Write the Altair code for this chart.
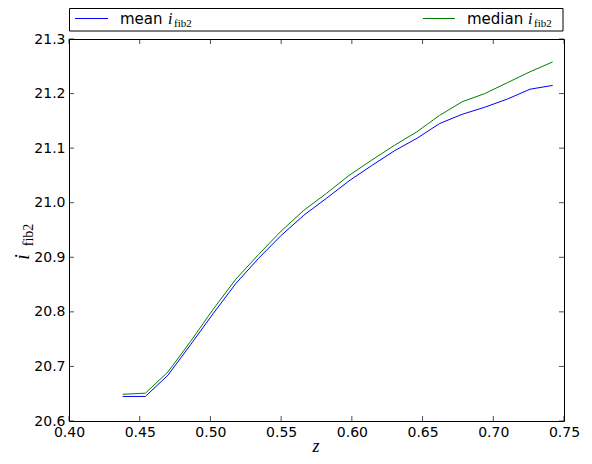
import altair as alt
import pandas as pd

z_vals = [0.438, 0.454, 0.470, 0.486, 0.502, 0.518, 0.534, 0.550, 0.566, 0.582,
          0.598, 0.614, 0.630, 0.646, 0.662, 0.678, 0.694, 0.710, 0.726, 0.742]
mean_vals = [20.645, 20.645, 20.684, 20.740, 20.797, 20.852, 20.898, 20.940, 20.977, 21.008,
             21.040, 21.068, 21.095, 21.118, 21.145, 21.162, 21.175, 21.190, 21.208, 21.215]
median_vals = [20.649, 20.651, 20.690, 20.746, 20.805, 20.860, 20.905, 20.948, 20.986, 21.017,
               21.050, 21.078, 21.105, 21.130, 21.160, 21.185, 21.200, 21.220, 21.240, 21.258]
series_names = ["mean", "median"]
series_colors = ["#0000ff", "#008000"]
x_ticks = [0.40, 0.45, 0.50, 0.55, 0.60, 0.65, 0.70, 0.75]
y_ticks = [20.6, 20.7, 20.8, 20.9, 21.0, 21.1, 21.2, 21.3]

W, H = 495, 382
FONT = "DejaVu Sans"
MATH = "Liberation Serif"

rows = []
for z, m, md in zip(z_vals, mean_vals, median_vals):
    rows.append({"z": z, "val": m, "series": "mean"})
    rows.append({"z": z, "val": md, "series": "median"})
df = pd.DataFrame(rows)

xs = alt.Scale(domain=[0.40, 0.75], nice=False, zero=False)
ys = alt.Scale(domain=[20.6, 21.3], nice=False, zero=False)

lines = alt.Chart(df).mark_line(strokeWidth=1, clip=True).encode(
    x=alt.X("z:Q", scale=xs, axis=alt.Axis(
        values=x_ticks, format=".2f", ticks=False, tickSize=0, labelPadding=4,
        labelFont=FONT, labelFontSize=14, labelColor="black", domain=False,
        grid=False, title=None, labelFlush=False)),
    y=alt.Y("val:Q", scale=ys, axis=alt.Axis(
        values=y_ticks, format=".1f", ticks=False, tickSize=0, labelPadding=4,
        labelFont=FONT, labelFontSize=14, labelColor="black", domain=False,
        grid=False, title=None, labelFlush=False)),
    color=alt.Color("series:N", scale=alt.Scale(domain=series_names, range=series_colors), legend=None),
    detail="series:N",
)

xt = pd.DataFrame({"t": x_ticks})
yt = pd.DataFrame({"t": y_ticks})
TL = 5
BLACK = alt.value("black")
xtick_b = alt.Chart(xt).mark_rule(strokeWidth=0.7).encode(
    x=alt.X("t:Q", scale=xs), y=alt.value(H), y2=alt.value(H - TL), color=BLACK)
xtick_t = alt.Chart(xt).mark_rule(strokeWidth=0.7).encode(
    x=alt.X("t:Q", scale=xs), y=alt.value(0), y2=alt.value(TL), color=BLACK)
ytick_l = alt.Chart(yt).mark_rule(strokeWidth=0.7).encode(
    y=alt.Y("t:Q", scale=ys), x=alt.value(0), x2=alt.value(TL), color=BLACK)
ytick_r = alt.Chart(yt).mark_rule(strokeWidth=0.7).encode(
    y=alt.Y("t:Q", scale=ys), x=alt.value(W), x2=alt.value(W - TL), color=BLACK)

one = pd.DataFrame({"a": [0]})
base = alt.Chart(one)

# legend box
leg_box = base.mark_rect(strokeWidth=1).encode(
    x=alt.value(0.5), x2=alt.value(494), y=alt.value(-30.5), y2=alt.value(-8),
    fill=alt.value("white"), stroke=BLACK)
leg_l1 = base.mark_rule(strokeWidth=1).encode(
    x=alt.value(6), x2=alt.value(39), y=alt.value(-20.5), color=alt.value(series_colors[0]))
leg_l2 = base.mark_rule(strokeWidth=1).encode(
    x=alt.value(354), x2=alt.value(386), y=alt.value(-20.5), color=alt.value(series_colors[1]))
leg_t1 = base.mark_text(font=FONT, fontSize=15, align="left", baseline="alphabetic").encode(
    x=alt.value(51), y=alt.value(-15), text=alt.value("mean"), color=BLACK)
leg_i1 = base.mark_text(font=MATH, fontSize=16, fontStyle="italic", align="left", baseline="alphabetic").encode(
    x=alt.value(99), y=alt.value(-15), text=alt.value("i"), color=BLACK)
leg_s1 = base.mark_text(font=MATH, fontSize=11, align="left", baseline="alphabetic").encode(
    x=alt.value(105), y=alt.value(-12), text=alt.value("fib2"), color=BLACK)
leg_t2 = base.mark_text(font=FONT, fontSize=15, align="left", baseline="alphabetic").encode(
    x=alt.value(398), y=alt.value(-15), text=alt.value("median"), color=BLACK)
leg_i2 = base.mark_text(font=MATH, fontSize=16, fontStyle="italic", align="left", baseline="alphabetic").encode(
    x=alt.value(459), y=alt.value(-15), text=alt.value("i"), color=BLACK)
leg_s2 = base.mark_text(font=MATH, fontSize=11, align="left", baseline="alphabetic").encode(
    x=alt.value(465), y=alt.value(-12), text=alt.value("fib2"), color=BLACK)

# axis titles
xtitle = base.mark_text(font=MATH, fontSize=18, fontStyle="italic", align="center", baseline="alphabetic").encode(
    x=alt.value(247), y=alt.value(413), text=alt.value("z"), color=BLACK)
ytitle_i = base.mark_text(font=MATH, fontSize=20, fontStyle="italic", angle=270, align="center", baseline="alphabetic").encode(
    x=alt.value(-40), y=alt.value(218), text=alt.value("i"), color=BLACK)
ytitle_s = base.mark_text(font=MATH, fontSize=14, angle=270, align="center", baseline="alphabetic").encode(
    x=alt.value(-36), y=alt.value(196), text=alt.value("fib2"), color=BLACK)

chart = alt.layer(
    lines, xtick_b, xtick_t, ytick_l, ytick_r,
    leg_box, leg_l1, leg_l2, leg_t1, leg_i1, leg_s1, leg_t2, leg_i2, leg_s2,
    xtitle, ytitle_i, ytitle_s,
).properties(
    width=W, height=H,
    autosize=alt.AutoSizeParams(type="none"),
    padding={"left": 61, "top": 31, "right": 20, "bottom": 35},
    background="white",
).configure_view(stroke="black", strokeWidth=1)

chart.save("out.html", embed_options={"renderer": "svg", "actions": False})
